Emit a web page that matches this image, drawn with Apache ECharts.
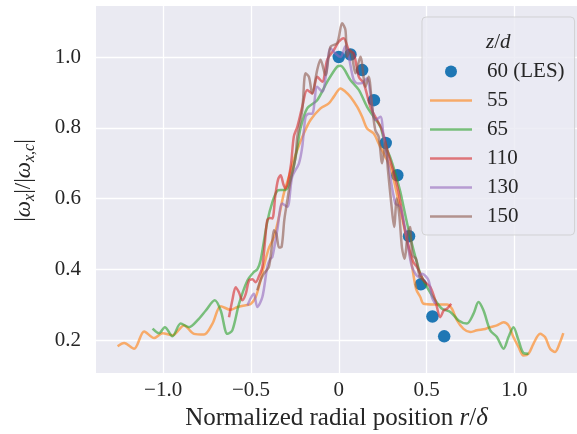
<!DOCTYPE html>
<html>
<head>
<meta charset="utf-8">
<script src="https://cdn.jsdelivr.net/npm/echarts@6/dist/echarts.min.js"></script>
<style>
  html, body { margin: 0; padding: 0; background: #ffffff; }
  #chart { width: 577px; height: 434px; }
</style>
</head>
<body>
<div id="chart"></div>
<script>
// Axis ticks
const xTicks = [-1.0, -0.5, 0, 0.5, 1.0];
const yTicks = [0.2, 0.4, 0.6, 0.8, 1.0];

// LES profile at z/d = 60 (points)
const lesR = [0, 0.0667, 0.133, 0.2, 0.267, 0.333, 0.4, 0.467, 0.533, 0.6];
const lesW = [1.0, 1.007, 0.963, 0.878, 0.757, 0.666, 0.494, 0.358, 0.267, 0.211];

// Measured profiles, [r/delta, |w_x|/|w_x,c|]
const z55 = [[-1.259,0.183],[-1.222,0.192],[-1.165,0.176],[-1.108,0.225],[-1.051,0.206],[-1.003,0.22],[-0.947,0.214],[-0.881,0.242],[-0.824,0.218],[-0.767,0.216],[-0.719,0.247],[-0.672,0.296],[-0.615,0.286],[-0.577,0.294],[-0.53,0.299],[-0.502,0.302],[-0.473,0.322],[-0.445,0.37],[-0.426,0.41],[-0.398,0.46],[-0.369,0.492],[-0.34,0.55],[-0.313,0.614],[-0.285,0.66],[-0.256,0.71],[-0.227,0.75],[-0.199,0.784],[-0.161,0.822],[-0.104,0.855],[-0.057,0.869],[-0.028,0.888],[0.01,0.911],[0.038,0.902],[0.066,0.888],[0.105,0.859],[0.133,0.831],[0.161,0.798],[0.199,0.784],[0.227,0.756],[0.265,0.718],[0.294,0.69],[0.322,0.633],[0.35,0.57],[0.38,0.5],[0.41,0.43],[0.44,0.345],[0.464,0.322],[0.483,0.303],[0.54,0.301],[0.616,0.301],[0.644,0.289],[0.673,0.256],[0.71,0.232],[0.748,0.223],[0.786,0.228],[0.834,0.232],[0.862,0.237],[0.9,0.242],[0.938,0.251],[0.966,0.242],[0.994,0.209],[1.023,0.181],[1.051,0.157],[1.08,0.162],[1.108,0.19],[1.146,0.218],[1.174,0.209],[1.203,0.176],[1.231,0.167],[1.26,0.195],[1.278,0.22]];

const z65 = [[-1.06,0.233],[-1.023,0.22],[-0.99,0.237],[-0.947,0.211],[-0.9,0.247],[-0.852,0.237],[-0.805,0.256],[-0.757,0.284],[-0.706,0.313],[-0.672,0.284],[-0.634,0.218],[-0.606,0.228],[-0.568,0.303],[-0.52,0.369],[-0.483,0.393],[-0.464,0.4],[-0.445,0.426],[-0.407,0.535],[-0.378,0.59],[-0.35,0.622],[-0.331,0.624],[-0.303,0.624],[-0.265,0.671],[-0.236,0.746],[-0.218,0.798],[-0.18,0.855],[-0.123,0.878],[-0.066,0.93],[-0.009,0.973],[0.01,0.975],[0.066,0.935],[0.114,0.907],[0.161,0.859],[0.199,0.831],[0.237,0.803],[0.265,0.75],[0.294,0.715],[0.322,0.671],[0.35,0.62],[0.389,0.53],[0.426,0.454],[0.464,0.388],[0.502,0.35],[0.549,0.313],[0.588,0.289],[0.635,0.28],[0.682,0.256],[0.729,0.247],[0.767,0.275],[0.795,0.308],[0.824,0.284],[0.862,0.228],[0.9,0.209],[0.938,0.176],[0.966,0.209],[0.994,0.237],[1.023,0.2],[1.051,0.164],[1.08,0.162]];

const z110 = [[-0.625,0.265],[-0.606,0.313],[-0.587,0.35],[-0.568,0.335],[-0.549,0.313],[-0.53,0.33],[-0.511,0.369],[-0.492,0.372],[-0.473,0.364],[-0.455,0.38],[-0.435,0.407],[-0.42,0.48],[-0.407,0.539],[-0.39,0.545],[-0.378,0.544],[-0.36,0.614],[-0.345,0.655],[-0.331,0.666],[-0.315,0.64],[-0.303,0.629],[-0.274,0.69],[-0.256,0.775],[-0.236,0.803],[-0.208,0.859],[-0.18,0.907],[-0.151,0.897],[-0.123,0.944],[-0.094,0.93],[-0.066,0.992],[-0.028,1.02],[0,1.043],[0.028,1.053],[0.057,1.02],[0.085,1.01],[0.114,0.944],[0.142,0.926],[0.18,0.859],[0.218,0.822],[0.247,0.793],[0.28,0.73],[0.31,0.68],[0.34,0.62],[0.37,0.53],[0.4,0.46],[0.425,0.42],[0.445,0.407],[0.483,0.369],[0.521,0.35],[0.549,0.313],[0.578,0.265],[0.597,0.284],[0.616,0.289],[0.64,0.303]];

const z130 = [[-0.52,0.298],[-0.5,0.32],[-0.483,0.331],[-0.464,0.294],[-0.435,0.322],[-0.407,0.407],[-0.39,0.43],[-0.378,0.435],[-0.35,0.511],[-0.322,0.586],[-0.293,0.577],[-0.265,0.662],[-0.227,0.699],[-0.208,0.746],[-0.189,0.831],[-0.17,0.84],[-0.151,0.84],[-0.123,0.916],[-0.094,0.902],[-0.07,0.96],[-0.047,1.025],[-0.019,1.01],[0.01,1.0],[0.038,1.03],[0.057,1.0],[0.085,0.935],[0.11,0.925],[0.133,0.926],[0.161,0.94],[0.18,0.897],[0.208,0.822],[0.237,0.831],[0.256,0.77],[0.284,0.69],[0.322,0.586],[0.35,0.577],[0.389,0.482],[0.417,0.407],[0.455,0.379],[0.474,0.388],[0.511,0.369],[0.53,0.322],[0.549,0.303]];

const z150 = [[-0.464,0.341],[-0.445,0.37],[-0.426,0.388],[-0.398,0.407],[-0.38,0.47],[-0.369,0.511],[-0.355,0.5],[-0.34,0.462],[-0.325,0.465],[-0.31,0.54],[-0.293,0.595],[-0.274,0.652],[-0.246,0.718],[-0.236,0.775],[-0.208,0.85],[-0.189,0.954],[-0.17,0.944],[-0.151,0.897],[-0.123,0.963],[-0.104,0.992],[-0.076,0.949],[-0.047,1.029],[-0.009,1.039],[0.019,1.095],[0.038,1.076],[0.047,1.001],[0.066,1.02],[0.095,0.954],[0.123,1.001],[0.152,0.916],[0.17,0.944],[0.19,0.859],[0.208,0.793],[0.227,0.775],[0.247,0.7],[0.265,0.76],[0.28,0.68],[0.3,0.58],[0.315,0.52],[0.33,0.6],[0.345,0.55],[0.36,0.46],[0.375,0.43],[0.39,0.49],[0.405,0.52],[0.42,0.44],[0.44,0.43],[0.46,0.38],[0.48,0.37]];

const seriesNames = ['55', '65', '110', '130', '150'];
const seriesData = [z55, z65, z110, z130, z150];
const lineColors = ['#ff7f0e', '#2ca02c', '#d62728', '#9467bd', '#8c564b'];

const FONT = '"Liberation Serif", "DejaVu Serif", serif';
const TEXT = '#262626';
// thin horizontal bar used as the legend key of each line
const LINE_ICON = 'path://M0,0 L42,0 L42,2.4 L0,2.4 Z';

const chart = echarts.init(document.getElementById('chart'), null, { renderer: 'canvas' });

const lineSeries = seriesNames.map((name, i) => ({
  name: name,
  type: 'line',
  data: seriesData[i],
  showSymbol: false,
  symbol: 'none',
  smooth: 0.3,
  lineStyle: { color: lineColors[i], width: 2.5, opacity: 0.6 },
  itemStyle: { color: lineColors[i], opacity: 0.6 },
  emphasis: { disabled: true },
  z: 3
}));

const option = {
  animation: false,
  backgroundColor: '#ffffff',
  textStyle: { fontFamily: FONT, color: TEXT },
  grid: { left: 96, right: 0, top: 6, bottom: 61, containLabel: false,
          outerBoundsMode: 'none',
          show: true, backgroundColor: '#eaeaf2', borderWidth: 0 },
  title: {
    text: '{i|z}{n|/}{i|d}',
    left: 481, top: 27,
    textStyle: {
      fontWeight: 'normal',
      rich: {
        i: { fontFamily: FONT, fontStyle: 'italic', fontWeight: 'normal', fontSize: 21, color: TEXT },
        n: { fontFamily: FONT, fontWeight: 'normal', fontSize: 21, color: TEXT }
      }
    },
    z: 10
  },
  legend: {
    orient: 'vertical',
    left: 422, top: 17,
    padding: [44, 10, 8, 8],
    itemWidth: 42, itemHeight: 12, itemGap: 8,
    backgroundColor: 'rgba(234,234,242,0.8)',
    borderColor: 'rgba(204,204,204,0.8)', borderWidth: 1, borderRadius: 4,
    textStyle: { fontFamily: FONT, fontSize: 21, color: TEXT, padding: [0, 0, 0, 10] },
    data: [{ name: '60 (LES)', icon: 'circle', itemStyle: { color: '#1f77b4', opacity: 1 } }].concat(
      seriesNames.map((n, i) => ({ name: n, icon: LINE_ICON, itemStyle: { color: lineColors[i], opacity: 0.6 } }))
    ),
    z: 8
  },
  xAxis: {
    type: 'value',
    min: -1.382, max: 1.356,
    axisLine: { show: false },
    axisTick: { show: false, customValues: xTicks },
    axisLabel: {
      customValues: xTicks,
      fontFamily: FONT, fontSize: 21, color: TEXT, margin: 7,
      formatter: v => (Math.abs(v) < 1e-9 ? '0' : (v < 0 ? '\u2212' + Math.abs(v).toFixed(1) : v.toFixed(1)))
    },
    splitLine: { show: true, lineStyle: { color: '#ffffff', width: 1.3 } },
    name: 'Normalized radial position {i|r}/{i|δ}',
    nameLocation: 'middle', nameGap: 30,
    nameTextStyle: {
      fontFamily: FONT, fontSize: 25, color: TEXT,
      rich: { i: { fontFamily: FONT, fontStyle: 'italic', fontSize: 25, color: TEXT } }
    }
  },
  yAxis: {
    type: 'value',
    min: 0.1075, max: 1.144,
    axisLine: { show: false },
    axisTick: { show: false, customValues: yTicks },
    axisLabel: {
      customValues: yTicks,
      fontFamily: FONT, fontSize: 21, color: TEXT, margin: 15,
      formatter: v => v.toFixed(1)
    },
    splitLine: { show: true, lineStyle: { color: '#ffffff', width: 1.3 } },
    name: '{n||}{i|ω}{s|x}{n||/|}{i|ω}{s|x,c}{n||}',
    nameLocation: 'middle', nameGap: 58, nameRotate: 90,
    nameTextStyle: {
      fontFamily: FONT, fontSize: 23, color: TEXT,
      padding: [0, 0, 0, 18],
      rich: {
        n: { fontFamily: FONT, fontSize: 23, color: TEXT, lineHeight: 28 },
        i: { fontFamily: FONT, fontStyle: 'italic', fontSize: 23, color: TEXT, lineHeight: 28 },
        s: { fontFamily: FONT, fontStyle: 'italic', fontSize: 16, color: TEXT, lineHeight: 16, verticalAlign: 'bottom' }
      }
    }
  },
  series: [
    {
      name: '60 (LES)',
      type: 'scatter',
      data: lesR.map((r, i) => [r, lesW[i]]),
      symbol: 'circle', symbolSize: 12.5,
      itemStyle: { color: '#1f77b4', opacity: 1 },
      emphasis: { disabled: true },
      z: 2
    }
  ].concat(lineSeries)
};

chart.setOption(option);
</script>
</body>
</html>
